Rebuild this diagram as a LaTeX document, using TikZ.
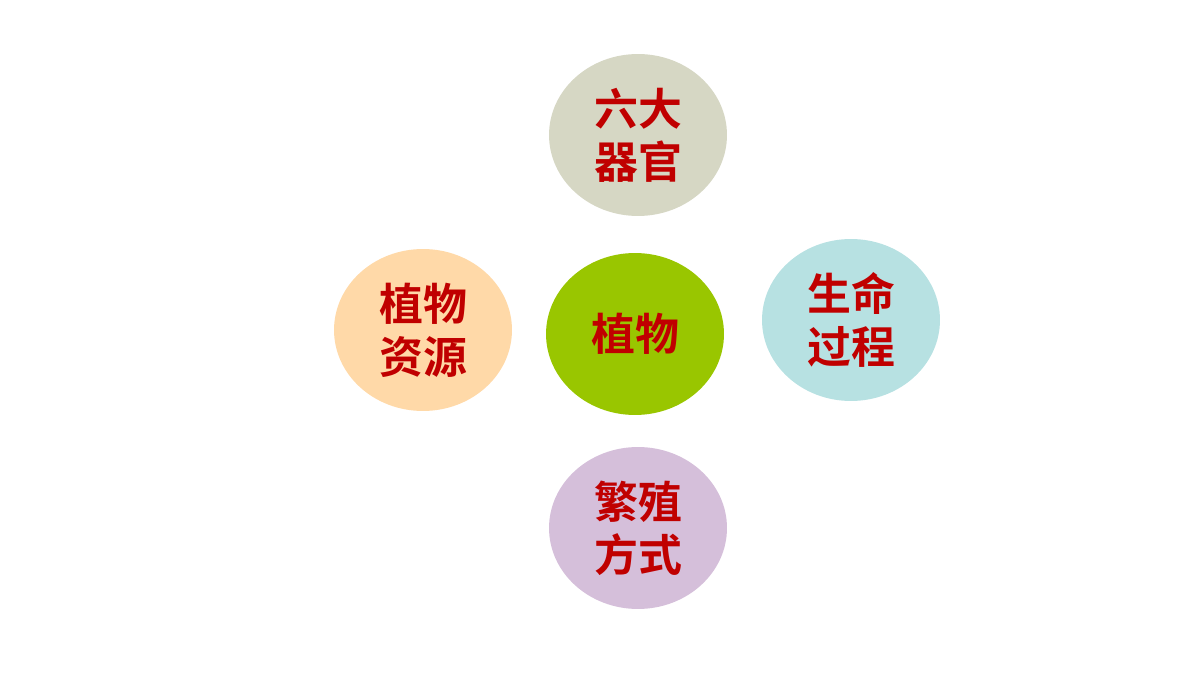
\documentclass[tikz,border=0pt]{standalone}
\usepackage{fontspec}
\newfontfamily\cjk{Noto Sans CJK SC Bold}
\usetikzlibrary{shapes.geometric,positioning}
\definecolor{leafgreen}{HTML}{99C600}
\definecolor{organgrey}{HTML}{D6D7C4}
\definecolor{peach}{HTML}{FFD9A8}
\definecolor{paleaqua}{HTML}{B7E1E2}
\definecolor{lavender}{HTML}{D5BFDA}
\definecolor{wordred}{HTML}{C00000}
\begin{document}
\begin{tikzpicture}[x=0.02cm,y=-0.02cm,
	bubble/.style={ellipse,minimum width=3.56cm,minimum height=3.24cm,inner sep=0pt,
		align=center,text=wordred,font=\cjk\fontsize{25}{30}\selectfont}]
		\useasboundingbox (0,0) rectangle (1200,675);
		\node[bubble,fill=leafgreen] (plant) at (635,334) {植物};
		\node[bubble,fill=organgrey] (organ) at (638,135) {六大\\器官};
		\node[bubble,fill=peach] (resource) at (423,330) {植物\\资源};
		\node[bubble,fill=paleaqua] (life) at (851,320) {生命\\过程};
		\node[bubble,fill=lavender] (breed) at (638,528) {繁殖\\方式};
	\end{tikzpicture}
\end{document}
